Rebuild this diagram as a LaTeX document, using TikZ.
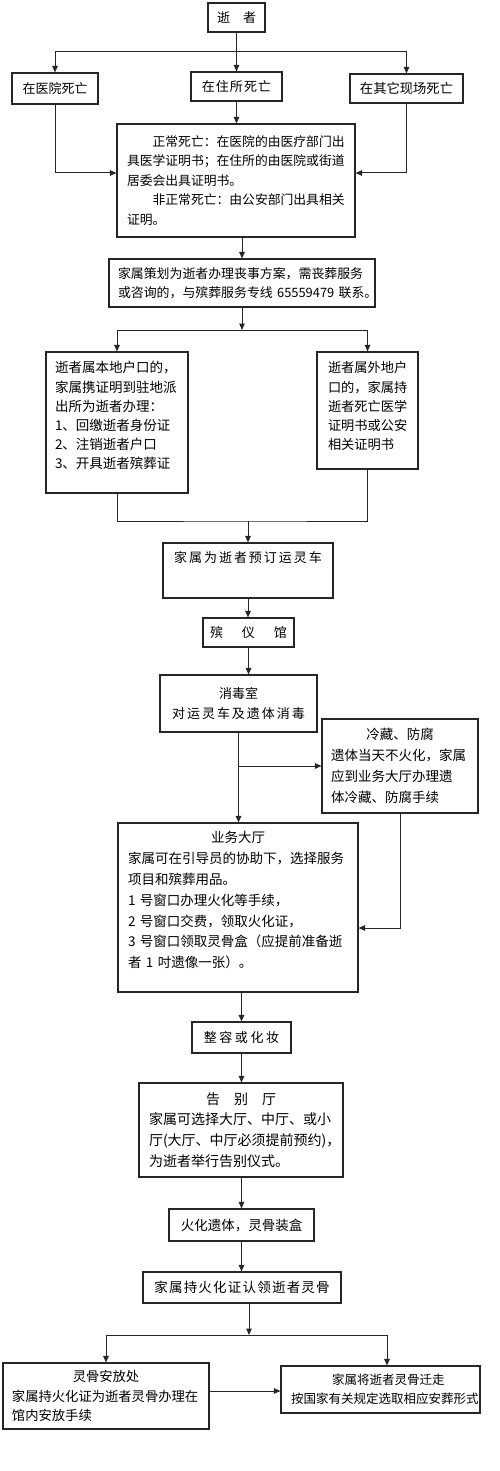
\documentclass[tikz,border=0pt]{standalone}
\usepackage{fontspec}
\newfontfamily\cjk{Noto Sans CJK SC}
\usetikzlibrary{arrows.meta}
\newcommand\cfs[2]{\cjk\fontsize{#1}{#2}\selectfont}
\newcommand\padb[1]{\\[#1]\mbox{}}
\begin{document}
\begin{tikzpicture}[x=1pt,y=-1pt,
  box/.style={draw=black!85, line width=1.1pt, inner sep=0pt, fill=white, text=black},
  tbox/.style={box, align=left},
  conn/.style={draw=black!85, line width=1pt},
  arr/.style={conn, -{Triangle[length=6.5pt,width=5.5pt]}}]
\fill[white] (0,0) rectangle (500,1471);
\useasboundingbox (0,0) rectangle (500,1471);

\node[box, minimum width=57pt, minimum height=29pt, font=\cfs{13}{16}] (b1) at (236.5,17.5) {逝　者};
\node[box, minimum width=86pt, minimum height=31pt, font=\cfs{13}{16}] (b2) at (55,88.5) {在医院死亡};
\node[box, minimum width=91pt, minimum height=29pt, font={\cfs{13}{16}\addfontfeature{LetterSpace=8}}] (b3) at (236.5,86.5) {在住所死亡};
\node[box, minimum width=113pt, minimum height=29pt, font=\cfs{13.3}{16}] (b4) at (406.5,88.5) {在其它现场死亡};

\node[tbox, text width=218pt, inner xsep=10pt, minimum height=113pt, font=\cfs{12.8}{19.4}] (b5) at (236,180.5)
 {\hspace*{2em}正常死亡：在医院的由医疗部门出\\具医学证明书；在住所的由医院或街道\\居委会出具证明书。\\\hspace*{2em}非正常死亡：由公安部门出具相关\\证明。};

\node[tbox, text width=248pt, inner xsep=9pt, minimum height=48pt, font=\cfs{12.9}{19}] (b6) at (242,283)
 {家属策划为逝者办理丧事方案，需丧葬服务\\或咨询的，与殡葬服务专线~65559479~联系。};

\node[tbox, text width=124pt, inner xsep=9pt, minimum height=141pt, font=\cfs{13.5}{19.2}] (b7) at (117,422.5)
 {逝者属本地户口的，\\家属携证明到驻地派\\出所为逝者办理：\\1、回缴逝者身份证\\2、注销逝者户口\\3、开具逝者殡葬证\padb{-4.6pt}};

\node[tbox, text width=79pt, inner xsep=11pt, minimum height=117pt, font=\cfs{13.2}{19.2}] (b8) at (367.5,410.5)
 {逝者属外地户\\口的，家属持\\逝者死亡医学\\证明书或公安\\相关证明书\padb{-9.6pt}};

\node[box, align=center, minimum width=170pt, minimum height=55pt, font={\cfs{13}{19}\addfontfeature{LetterSpace=15}}] (b9) at (248,570.5)
 {家属为逝者预订运灵车\padb{7.6pt}};

\node[box, minimum width=91pt, minimum height=29pt, font=\cfs{13}{16}] (b10) at (248.5,632.5)
 {殡\hspace{1.45em}仪\hspace{1.45em}馆};

\node[box, align=center, minimum width=157pt, minimum height=57pt, font=\cfs{13}{20}] (b11) at (238.5,703.5)
 {消毒室\\{\addfontfeature{LetterSpace=15}对运灵车及遗体消毒}};

\node[tbox, text width=138pt, inner xsep=9pt, minimum height=94pt, font=\cfs{13.5}{21}] (b12) at (400,766)
 {\makebox[138pt]{冷藏、防腐}\\遗体当天不火化，家属\\应到业务大厅办理遗\\体冷藏、防腐手续};

\node[tbox, text width=220pt, inner xsep=10pt, minimum height=169pt, font=\cfs{13.5}{20.8}] (b13) at (238,907.5)
 {\makebox[220pt]{业务大厅}\\家属可在引导员的协助下，选择服务\\项目和殡葬用品。\\1~号窗口办理火化等手续，\\2~号窗口交费，领取火化证，\\3~号窗口领取灵骨盒（应提前准备逝\\者~1~吋遗像一张）。\padb{-5.2pt}};

\node[box, minimum width=99pt, minimum height=31pt, font={\cfs{13}{16}\addfontfeature{LetterSpace=20}}] (b14) at (241.5,1037.5) {整容或化妆};

\node[tbox, text width=184pt, inner xsep=10pt, minimum height=94pt, font=\cfs{14}{20.7}] (b15) at (241,1130)
 {\makebox[184pt]{告　别　厅}\\家属可选择大厅、中厅、或小\\厅(大厅、中厅必须提前预约)，\\为逝者举行告别仪式。};

\node[box, minimum width=145pt, minimum height=32pt, font=\cfs{13.5}{16}] (b16) at (241.5,1225) {火化遗体，灵骨装盒};

\node[box, minimum width=198pt, minimum height=31pt, font={\cfs{13.5}{16}\addfontfeature{LetterSpace=9}}] (b17) at (242,1287.5) {家属持火化证认领逝者灵骨};

\node[tbox, text width=188pt, inner xsep=9pt, minimum height=66pt, font=\cfs{13.3}{19.5}] (b18) at (106,1396)
 {\makebox[188pt]{灵骨安放处}\\家属持火化证为逝者灵骨办理在\\馆内安放手续};

\node[tbox, text width=179pt, inner xsep=10pt, minimum height=47pt, font=\cfs{12.5}{19}] (b19) at (380.5,1389.5)
 {\hspace*{41pt}家属将逝者灵骨迁走\\按国家有关规定选取相应安葬形式};

% connectors
\coordinate (j1) at (236.5,52);
\draw[conn] (b1.south) -- (j1);
\draw[arr] (j1) -| (b2.north);
\draw[arr] (j1) -| (b4.north);
\draw[arr] (j1) -- (b3.north);
\draw[arr] (b3.south) -- (b3.south |- b5.north);
\coordinate (h1) at (0,173);
\draw[arr] (b2.south) |- (b5.west |- h1);
\draw[arr] (b4.south) |- (b5.east |- h1);
\draw[arr] (b5.south -| b6.north) -- (b6.north);
\coordinate (j2) at (242,330);
\draw[arr] (b6.south) -- (j2);
\draw[arr] (j2) -| (b7.north);
\draw[arr] (j2) -| (b8.north);
\coordinate (j3) at (248,521);
\draw[conn] (b7.south) |- (j3) -| (b8.south);
\draw[arr] (j3) -- (b9.north);
\draw[arr] (b9.south) -- (b9.south |- b10.north);
\draw[arr] (b10.south) -- (b10.south |- b11.north);
\draw[arr] (b11.south) -- (b11.south |- b13.north);
\draw[arr] (b11.south |- b12.west) -- (b12.west);
\coordinate (h2) at (0,928);
\draw[arr] (b12.south) |- (b13.east |- h2);
\draw[arr] (b13.south -| b14.north) -- (b14.north);
\draw[arr] (b14.south) -- (b14.south |- b15.north);
\draw[arr] (b15.south -| b16.north) -- (b16.north);
\draw[arr] (b16.south) -- (b16.south |- b17.north);
\coordinate (j4) at (249,1335);
\draw[arr] (b17.south -| j4) -- (j4);
\draw[arr] (j4) -| (b18.north);
\draw[arr] (j4) -| ([xshift=6.5pt]b19.north);
\coordinate (h3) at (0,1391);
\draw[arr] (b18.east |- h3) -- (b19.west |- h3);
\end{tikzpicture}
\end{document}
